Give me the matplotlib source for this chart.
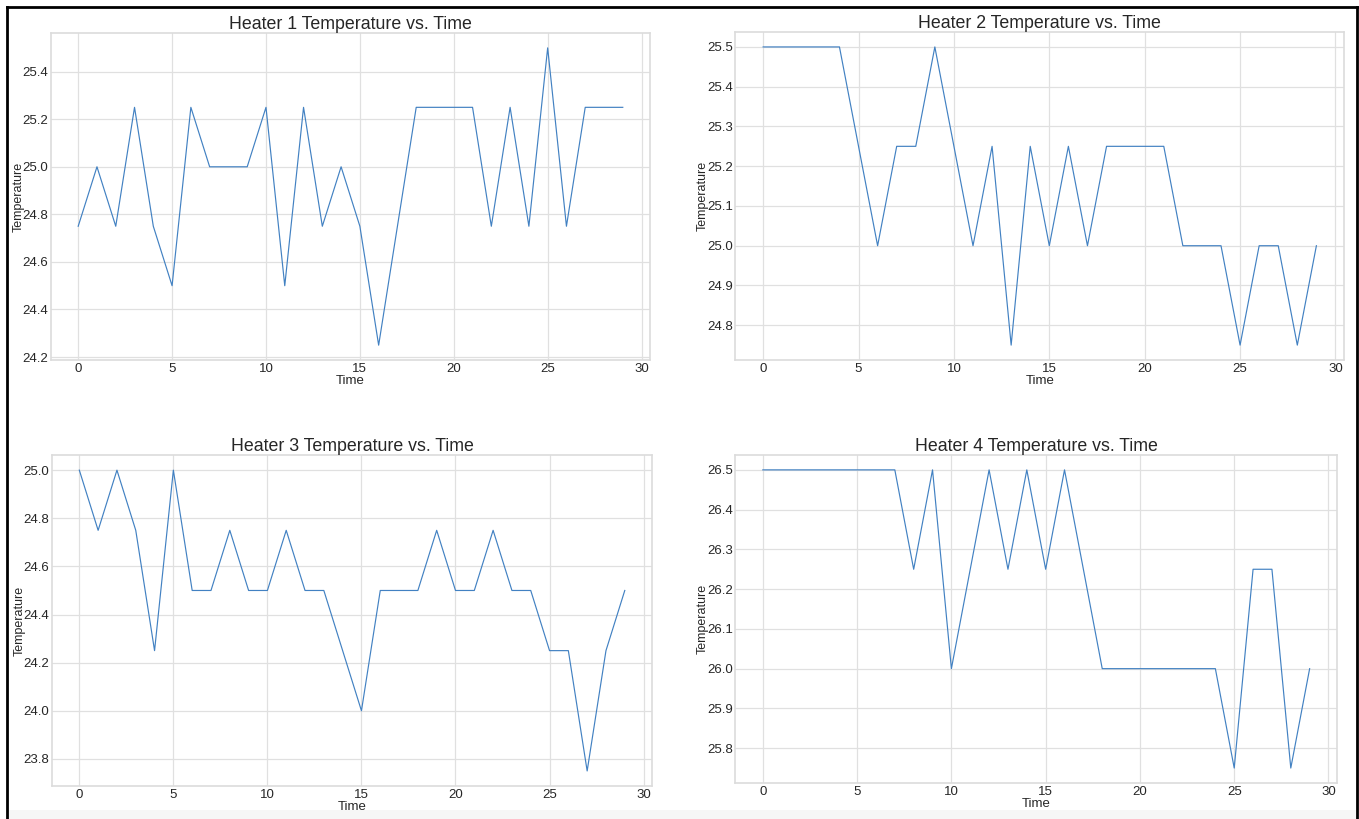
import matplotlib.pyplot as plt
from matplotlib.patches import Rectangle
from matplotlib.lines import Line2D

time = list(range(30))

heater1 = [24.75, 25.0, 24.75, 25.25, 24.75, 24.5, 25.25, 25.0, 25.0, 25.0,
           25.25, 24.5, 25.25, 24.75, 25.0, 24.75, 24.25, 24.75, 25.25, 25.25,
           25.25, 25.25, 24.75, 25.25, 24.75, 25.5, 24.75, 25.25, 25.25, 25.25]
heater2 = [25.5, 25.5, 25.5, 25.5, 25.5, 25.25, 25.0, 25.25, 25.25, 25.5,
           25.25, 25.0, 25.25, 24.75, 25.25, 25.0, 25.25, 25.0, 25.25, 25.25,
           25.25, 25.25, 25.0, 25.0, 25.0, 24.75, 25.0, 25.0, 24.75, 25.0]
heater3 = [25.0, 24.75, 25.0, 24.75, 24.25, 25.0, 24.5, 24.5, 24.75, 24.5,
           24.5, 24.75, 24.5, 24.5, 24.25, 24.0, 24.5, 24.5, 24.5, 24.75,
           24.5, 24.5, 24.75, 24.5, 24.5, 24.25, 24.25, 23.75, 24.25, 24.5]
heater4 = [26.5, 26.5, 26.5, 26.5, 26.5, 26.5, 26.5, 26.5, 26.25, 26.5,
           26.0, 26.25, 26.5, 26.25, 26.5, 26.25, 26.5, 26.25, 26.0, 26.0,
           26.0, 26.0, 26.0, 26.0, 26.0, 25.75, 26.25, 26.25, 25.75, 26.0]

titles = ['Heater 1 Temperature vs. Time', 'Heater 2 Temperature vs. Time',
          'Heater 3 Temperature vs. Time', 'Heater 4 Temperature vs. Time']

plt.rcParams['font.family'] = ['Liberation Sans', 'DejaVu Sans']

fig = plt.figure(figsize=(13.59, 8.19), dpi=100)

# axes boxes
boxes = [[0.0375, 0.5604, 0.4408, 0.3993],
         [0.5412, 0.5604, 0.4478, 0.4005],
         [0.0383, 0.0403, 0.4415, 0.4040],
         [0.5412, 0.0440, 0.4426, 0.4005]]

for box, data, title in zip(boxes, [heater1, heater2, heater3, heater4], titles):
    ax = fig.add_axes(box)
    ax.plot(time, data, color='#4281c2', linewidth=0.85)
    ax.set_title(title, fontsize=12.8, color='#262626', pad=3)
    ax.set_xlabel('Time', fontsize=9.5, color='#262626', labelpad=0)
    ax.set_ylabel('Temperature', fontsize=9, color='#262626', labelpad=-1.5)
    ax.grid(True, color='#e0e0e0', linewidth=0.9)
    ax.set_axisbelow(True)
    ax.tick_params(length=0, labelsize=9.5, labelcolor='#262626', pad=2)
    for s in ax.spines.values():
        s.set_color('#dcdcdc')
        s.set_linewidth(1.2)

# screenshot frame
fig.add_artist(Rectangle((0.005, 0.0), 0.994, 0.011, transform=fig.transFigure,
                         facecolor='#f6f6f6', edgecolor='none', zorder=-1))
fig.add_artist(Line2D([0.005, 0.005], [0, 0.9915], transform=fig.transFigure,
                      color='black', linewidth=2))
fig.add_artist(Line2D([0.9985, 0.9985], [0, 0.9915], transform=fig.transFigure,
                      color='black', linewidth=2))
fig.add_artist(Line2D([0.005, 0.9985], [0.9915, 0.9915], transform=fig.transFigure,
                      color='black', linewidth=2))

fig.savefig('out.png', dpi=100)
